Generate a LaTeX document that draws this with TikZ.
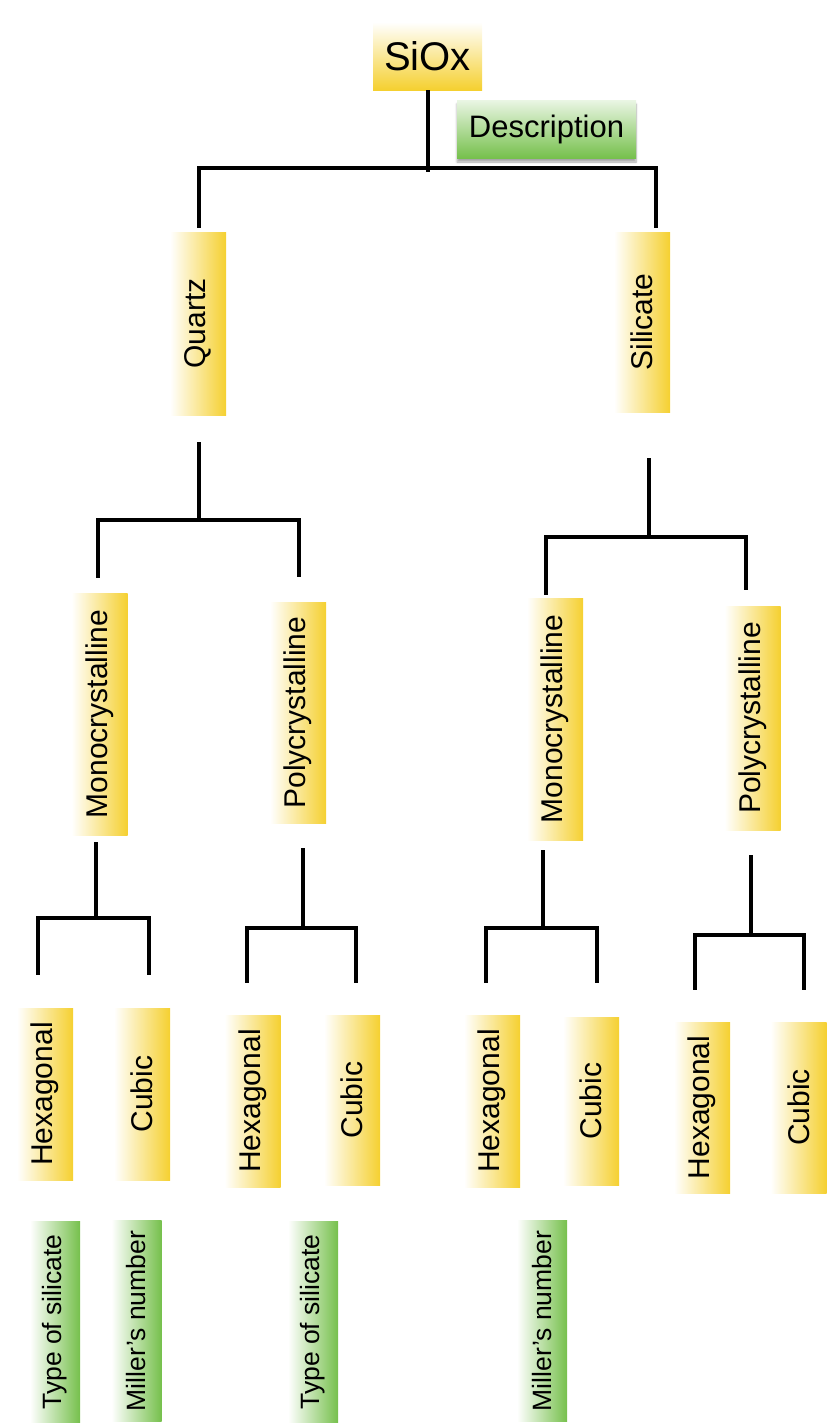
\documentclass[tikz,border=0pt]{standalone}
\usepackage{fontspec}
\setmainfont{Liberation Sans}
\usepackage{graphicx}
\usepackage{tikz}
\usetikzlibrary{positioning, shadows.blur}

\definecolor{siyellow}{RGB}{245,208,48}
\definecolor{sigreen}{RGB}{118,192,76}

\begin{document}
\begin{tikzpicture}[
        x=1pt, y=-1pt,
        root/.style={rectangle, inner sep=0pt, top color=white, bottom color=siyellow, minimum width=109pt, minimum height=68pt, font=\fontsize{40}{46}\selectfont},
        descr/.style={rectangle, inner sep=0pt, top color=white!85!sigreen, bottom color=sigreen, minimum width=179pt, minimum height=58pt, font=\fontsize{31}{36}\selectfont, blur shadow={shadow xshift=0pt, shadow yshift=-4pt, shadow blur steps=6, shadow opacity=35}},
        crystal/.style={rectangle, inner sep=0pt, left color=white, right color=siyellow, minimum width=56pt, font=\fontsize{30}{36}\selectfont},
        remark/.style={rectangle, inner sep=0pt, left color=white, right color=sigreen, minimum width=50pt, minimum height=201pt, font=\fontsize{26.5}{32}\selectfont},
        bracket/.style={line width=4pt, black}
    ]
    \useasboundingbox (0,0) rectangle (835,1425);

    % top level
    \node (siox) [root] at (427.5,56) {SiOx};
    \node (desc) [descr] at (546.5,129) {Description};

    \node (quartz) [crystal, minimum height=183pt] at (198,323.5) {\rotatebox{90}{Quartz}};
    \node (silicate) [crystal, minimum height=180pt] at (642,322) {\rotatebox{90}{Silicate}};

    % second level
    \node (qmono) [crystal, minimum height=242pt] at (99.5,714) {\rotatebox{90}{Monocrystalline}};
    \node (qpoly) [crystal, minimum height=221pt] at (298,712.5) {\rotatebox{90}{Polycrystalline}};
    \node (smono) [crystal, minimum height=242pt] at (555,719) {\rotatebox{90}{Monocrystalline}};
    \node (spoly) [crystal, minimum height=224pt] at (752.5,718) {\rotatebox{90}{Polycrystalline}};

    % third level
    \node (qmhex) [crystal, minimum height=172pt] at (45,1094) {\rotatebox{90}{Hexagonal}};
    \node (qmcub) [crystal, minimum height=172pt] at (142,1094) {\rotatebox{90}{Cubic}};
    \node (qphex) [crystal, minimum height=172pt] at (252.5,1101) {\rotatebox{90}{Hexagonal}};
    \node (qpcub) [crystal, minimum height=170pt] at (352,1100) {\rotatebox{90}{Cubic}};
    \node (smhex) [crystal, minimum height=172pt] at (492,1101) {\rotatebox{90}{Hexagonal}};
    \node (smcub) [crystal, minimum height=168pt] at (591,1101) {\rotatebox{90}{Cubic}};
    \node (sphex) [crystal, minimum height=171pt] at (702,1107.5) {\rotatebox{90}{Hexagonal}};
    \node (spcub) [crystal, minimum height=171pt] at (798.5,1107.5) {\rotatebox{90}{Cubic}};

    % descriptions
    \node (qmtype) [remark] at (55,1322) {\rotatebox{90}{Type of silicate}};
    \node (qmmill) [remark] at (136.5,1321) {\rotatebox{90}{Miller’s number}};
    \node (qptype) [remark] at (313,1322) {\rotatebox{90}{Type of silicate}};
    \node (smmill) [remark] at (542,1321) {\rotatebox{90}{Miller’s number}};

    % brackets
    \coordinate (top-fork) at (428,168);
    \coordinate (q-fork) at (199,520);
    \coordinate (s-fork) at (649,537);
    \coordinate (qm-fork) at (95,918);
    \coordinate (qp-fork) at (303,928);
    \coordinate (sm-fork) at (543,928);
    \coordinate (sp-fork) at (750,935);

    \draw [bracket] (siox.south) -- ++(0,82);
    \draw [bracket] ([xshift=1pt, yshift=4pt]quartz.north) |- (top-fork) -| ([xshift=14pt, yshift=4pt]silicate.north);

    \draw [bracket] ([xshift=1pt, yshift=-27pt]quartz.south) |- (q-fork);
    \draw [bracket] ([xshift=-2pt, yshift=15pt]qmono.north) |- (q-fork) -| ([xshift=1pt, yshift=25pt]qpoly.north);

    \draw [bracket] ([xshift=7pt, yshift=-46pt]silicate.south) |- (s-fork);
    \draw [bracket] ([xshift=-9pt, yshift=3pt]smono.north) |- (s-fork) -| ([xshift=-7pt, yshift=16pt]spoly.north);

    \draw [bracket] ([xshift=-4pt, yshift=-7pt]qmono.south) |- (qm-fork);
    \draw [bracket] ([xshift=-7pt, yshift=33pt]qmhex.north) |- (qm-fork) -| ([xshift=7pt, yshift=33pt]qmcub.north);

    \draw [bracket] ([xshift=5pt, yshift=-25pt]qpoly.south) |- (qp-fork);
    \draw [bracket] ([xshift=-6pt, yshift=32pt]qphex.north) |- (qp-fork) -| ([xshift=4pt, yshift=32pt]qpcub.north);

    \draw [bracket] ([xshift=-12pt, yshift=-10pt]smono.south) |- (sm-fork);
    \draw [bracket] ([xshift=-6pt, yshift=32pt]smhex.north) |- (sm-fork) -| ([xshift=6pt, yshift=34pt]smcub.north);

    \draw [bracket] ([xshift=-2pt, yshift=-25pt]spoly.south) |- (sp-fork);
    \draw [bracket] ([xshift=-7pt, yshift=32pt]sphex.north) |- (sp-fork) -| ([xshift=5pt, yshift=32pt]spcub.north);

\end{tikzpicture}
\end{document}
